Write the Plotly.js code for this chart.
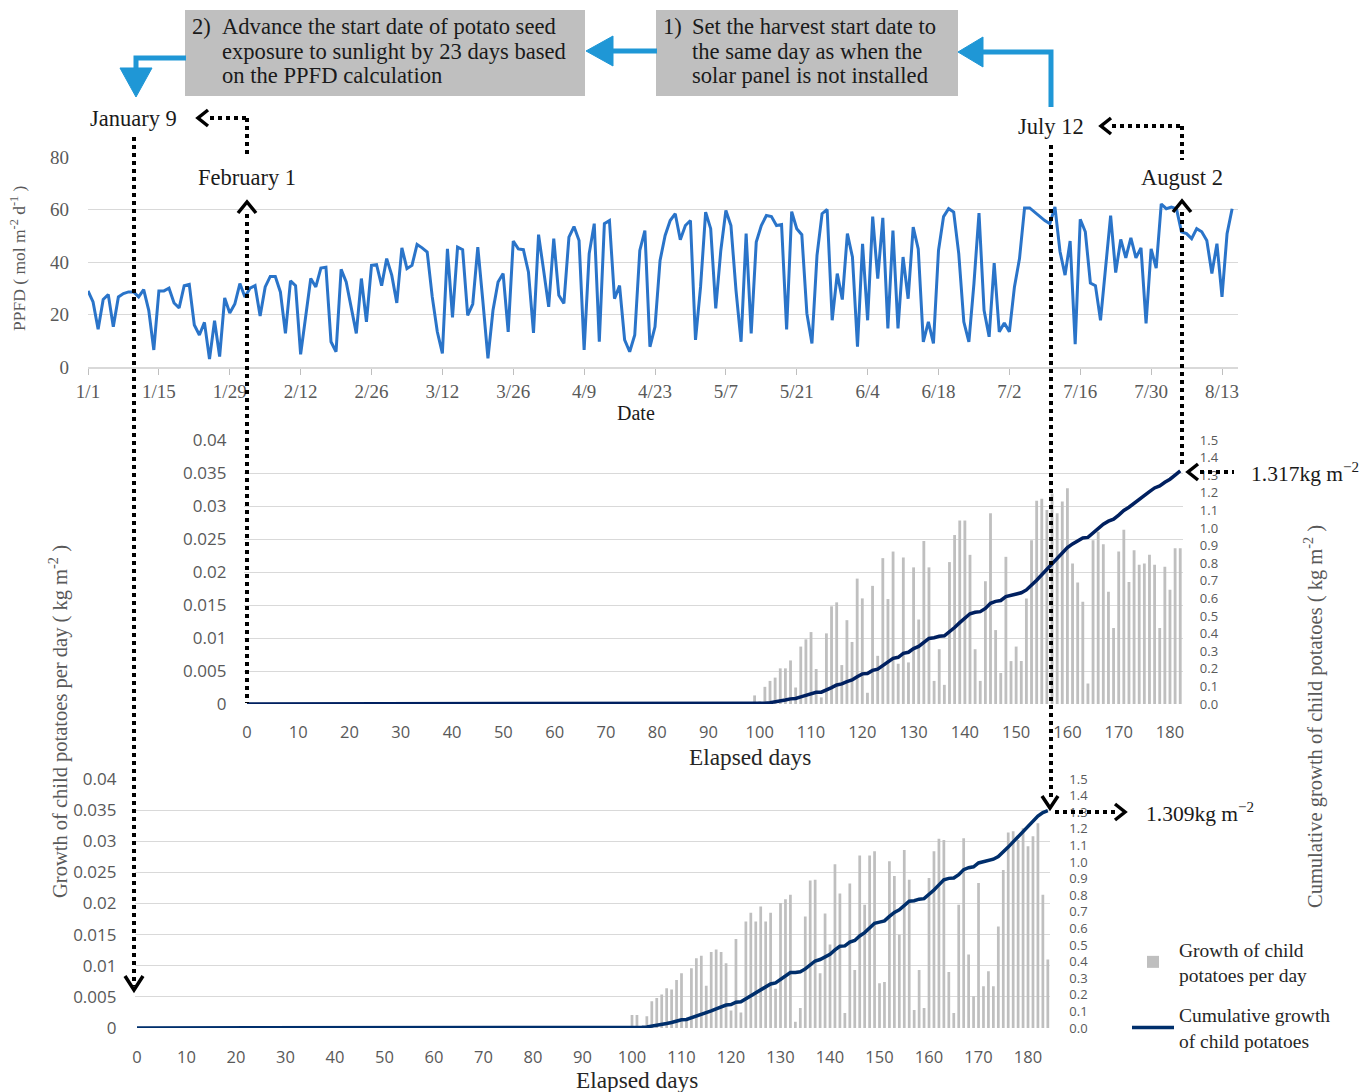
<!DOCTYPE html>
<html>
<head>
<meta charset="utf-8">
<script src="https://cdn.plot.ly/plotly-3.0.1.min.js"></script>
<style>
html,body{margin:0;padding:0;background:#ffffff;}
#chart{width:1370px;height:1092px;}
</style>
</head>
<body>
<div id="chart"></div>
<script>
// ---------------- DATA ----------------
// Top panel: daily PPFD (mol m-2 d-1), day 0 = 1/1 ... day 226 = 8/15
const dateTickDays = [0, 14, 28, 42, 56, 70, 84, 98, 112, 126, 140, 154, 168, 182, 196, 210, 224];
const dateTickLabels = ['1/1', '1/15', '1/29', '2/12', '2/26', '3/12', '3/26', '4/9', '4/23', '5/7', '5/21', '6/4', '6/18', '7/2', '7/16', '7/30', '8/13'];
const ppfd = [
  29, 24.8, 14.4, 25.7, 27.6, 15.3, 26.7, 28, 28.6, 28.6,
  26.7, 29.5, 21.6, 6.5, 29, 29, 30, 24.4, 22.5, 31,
  31.5, 16, 12.2, 17, 3, 17.6, 4, 26.3, 20.6, 24,
  31.8, 26.7, 30, 31, 19.4, 30.5, 34.5, 34.5, 28.6, 12.8,
  32.8, 31, 4.8, 20, 33.7, 30.5, 37.7, 38, 9.6, 5.8,
  37.2, 32.4, 22.3, 12.8, 33.7, 17.2, 38.7, 39, 31, 41.3,
  35, 24.4, 45.4, 37.5, 38.7, 46.7, 45.4, 43.8, 26.7, 13.4,
  5.2, 45, 18.9, 45.7, 44.7, 19.7, 24, 45.7,
  25, 3.3, 21.6, 32.4, 35.6, 13.4, 48, 45, 44.7, 36.2,
  13, 50.4, 36.8, 22.9, 48.9, 27.3, 24.2, 49.5, 53.5, 48.2,
  6.5, 43.2, 54.6, 9.6, 54.6, 55.8, 26, 31, 10.3, 5.8,
  12.2, 44.4, 52, 7.7, 15.3, 40.6, 50.1, 55.8, 58.4, 48.5,
  53.9, 55.8, 10.3, 30.5, 59, 52.7, 22.3, 44.4, 59.6, 53.9,
  29.2, 9.6, 50.8, 12.8, 47.6, 53.9, 57.7, 57.3, 53.9, 54.3,
  14.3, 59.2, 52.7, 50.4, 20.4, 9, 42.5, 58.4, 60, 17.8,
  35.6, 25.7, 50.8, 41.9, 7.7,
  46.9, 17.8, 57.3, 33.7, 56.8, 14.7, 52, 14.7, 41.9, 26,
  53.3, 45, 9.6, 17.2, 9, 44.4, 57.3, 60.3, 59, 43.2,
  17.2, 9.6, 31.8, 58.6, 21.6, 11.5, 39.6, 13.4, 16.8, 13.4,
  30.5, 41.3, 60.6, 60.6, 59, 57.3, 55.8, 54.6,
  61, 44, 35, 48, 8.7, 56.3, 51.5, 32, 31, 17.8,
  38, 57.7, 36, 48.6, 41.6, 49.2, 41.6, 45.4, 16.6, 45,
  37.7, 62.1, 60.3, 60.9, 60.3, 51.5, 50.8, 48.9, 52.7, 51.5,
  48.2, 35.6, 47, 26.7, 50.8, 60.3
];

// Middle panel (start Feb 1): growth per day, zero until day 99, last day 182
const midLastDay = 182;
const midGrowthStartDay = 99;
const midGrowthValues = [
  0.0013, 0.0004, 0.0026, 0.0035, 0.004, 0.0054, 0.0054, 0.0066, 0.0025, 0.0087,
  0.0098, 0.0109, 0.0053, 0.001,
  0.0107, 0.0148, 0.0154, 0.0059, 0.0127, 0.0094, 0.019, 0.016, 0.0017, 0.0179,
  0.0073, 0.0221, 0.0159, 0.0231, 0.0061, 0.0222, 0.0063, 0.0207, 0.0128, 0.0247,
  0.0207, 0.0035, 0.0083, 0.0029, 0.0215, 0.0256, 0.0278, 0.0278, 0.0226, 0.0083,
  0.0035, 0.0186, 0.0289, 0.0112, 0.0047,
  0.0223, 0.0065, 0.0087, 0.0065, 0.016, 0.0248, 0.0308, 0.0311, 0.0294, 0.0319,
  0.0289, 0.0307, 0.0327, 0.0213, 0.0184, 0.0155, 0.0031, 0.0248, 0.0261, 0.0242, 0.017,
  0.0115, 0.0231, 0.0264, 0.0185, 0.0233, 0.0211, 0.0213, 0.0226, 0.0211, 0.0115,
  0.0208, 0.0173, 0.0236, 0.0236
];

// Bottom panel (start Jan 9): growth per day, zero until day 100, last day 184
const botLastDay = 184;
const botGrowthStartDay = 100;
const botGrowthValues = [
  0.0021, 0.0021, 0.0003, 0.0019, 0.0043, 0.0048, 0.0054, 0.0064, 0.0062, 0.0077,
  0.0088, 0.0015, 0.0096,
  0.0112, 0.0116, 0.0068, 0.0122, 0.0126, 0.0122, 0.0104, 0.0028, 0.0143, 0.0025,
  0.0171, 0.0185, 0.0171, 0.0195, 0.0171, 0.0185, 0.0063, 0.0201, 0.0207, 0.0214,
  0.001, 0.0032, 0.0179, 0.0237, 0.0238, 0.0088, 0.0184, 0.0134, 0.0263, 0.0216,
  0.0024, 0.0232, 0.0093, 0.0277,
  0.0198, 0.0277, 0.0284, 0.0072, 0.0074, 0.0268, 0.0244, 0.015, 0.0286, 0.0238,
  0.0029, 0.0093, 0.0032, 0.0241, 0.0284, 0.0304, 0.0302, 0.009, 0.0024, 0.0198,
  0.0305, 0.0118, 0.0051, 0.0233, 0.0067, 0.0091, 0.0067, 0.0163, 0.0254, 0.0314,
  0.0316, 0.0302, 0.0321, 0.0292, 0.0308, 0.0329, 0.0214,
  0.011
];

const elapsedTickVals = [0, 10, 20, 30, 40, 50, 60, 70, 80, 90, 100, 110, 120, 130, 140, 150, 160, 170, 180];
const growthTickVals = [0, 0.005, 0.01, 0.015, 0.02, 0.025, 0.03, 0.035, 0.04];
const growthTickText = ['0', '0.005', '0.01', '0.015', '0.02', '0.025', '0.03', '0.035', '0.04'];

// ---------------- BUILD SERIES ----------------
function dayIndex(n) { const a = []; for (let i = 0; i < n; i++) a.push(i); return a; }
function padGrowth(startDay, values, lastDay) {
  const out = [];
  for (let d = 0; d <= lastDay; d++) {
    const k = d - startDay;
    out.push(k >= 0 && k < values.length ? values[k] : 0);
  }
  return out;
}
// cumulative growth = running total of the daily growth
function runningTotal(arr) { let s = 0; return arr.map(v => (s += v, +s.toFixed(4))); }

const ppfdDays = dayIndex(ppfd.length);
const midDays = dayIndex(midLastDay + 1);
const botDays = dayIndex(botLastDay + 1);
const midGrowth = padGrowth(midGrowthStartDay, midGrowthValues, midLastDay);
const botGrowth = padGrowth(botGrowthStartDay, botGrowthValues, botLastDay);
const midCum = runningTotal(midGrowth);
const botCum = runningTotal(botGrowth);

// ---------------- LAYOUT HELPERS ----------------
const W = 1370, H = 1092;
const fx = px => px / W;
const fy = py => 1 - py / H;
const SERIF = 'Liberation Serif, Times New Roman, serif';
const SANS = 'Open Sans, Noto Sans, sans-serif';
const GRID = '#d9d9d9';
const TICKC = '#595959';
const BLUE = '#1f97d6';

const traces = [
  { type: 'scatter', mode: 'lines', x: ppfdDays, y: ppfd, xaxis: 'x', yaxis: 'y',
    line: { color: '#2a74c9', width: 3 }, showlegend: false, name: 'PPFD' },
  { type: 'bar', x: midDays, y: midGrowth, xaxis: 'x2', yaxis: 'y2',
    marker: { color: '#bfbfbf' }, showlegend: false, name: 'Growth of child potatoes per day' },
  { type: 'scatter', mode: 'lines', x: midDays, y: midCum, xaxis: 'x2', yaxis: 'y4',
    line: { color: '#002060', width: 3.5 }, showlegend: false, name: 'Cumulative growth of child potatoes' },
  { type: 'bar', x: botDays, y: botGrowth, xaxis: 'x3', yaxis: 'y3',
    marker: { color: '#bfbfbf' }, name: 'Growth of child<br>potatoes per day', legendgroup: 'g1' },
  { type: 'scatter', mode: 'lines', x: botDays, y: botCum, xaxis: 'x3', yaxis: 'y5',
    line: { color: '#002f6c', width: 3.5 }, name: 'Cumulative growth<br>of child potatoes', legendgroup: 'g2' }
];

const sansTick = { family: SANS, size: 16.5, color: TICKC };
const leftTick = { family: SANS, size: 17, color: TICKC };
const rightTick = { family: SANS, size: 13, color: TICKC };

const layout = {
  width: W, height: H, autosize: false,
  margin: { l: 0, r: 0, t: 0, b: 0, pad: 0 },
  paper_bgcolor: '#ffffff', plot_bgcolor: 'rgba(0,0,0,0)',
  bargap: 0.45,
  hovermode: false,
  // ---- top: PPFD ----
  xaxis: {
    domain: [fx(88), fx(1238)], anchor: 'y', range: [0, (1238 - 88) / 5.0625],
    tickmode: 'array', tickvals: dateTickDays, ticktext: dateTickLabels,
    ticks: 'outside', ticklen: 6, tickcolor: '#bfbfbf', tickwidth: 1,
    showline: true, linecolor: GRID, linewidth: 1.5, showgrid: false, zeroline: false,
    tickfont: { family: SERIF, size: 19, color: TICKC }, ticklabelstandoff: 1
  },
  yaxis: {
    domain: [fy(367), fy(157)], anchor: 'x', range: [0, 80], dtick: 20,
    showgrid: true, gridcolor: GRID, gridwidth: 1, zeroline: false, showline: false,
    tickfont: { family: SERIF, size: 19, color: TICKC }, ticklabelstandoff: 18
  },
  // ---- middle ----
  xaxis2: {
    domain: [fx(244.4), fx(1182.8)], anchor: 'y2', range: [-0.5, midLastDay + 0.5],
    tickmode: 'array', tickvals: elapsedTickVals, ticks: '', showgrid: false, zeroline: false, showline: false,
    tickfont: sansTick, ticklabelstandoff: 16
  },
  yaxis2: {
    domain: [fy(704), fy(440)], anchor: 'x2', range: [0, 0.04],
    tickmode: 'array', tickvals: growthTickVals, ticktext: growthTickText,
    showgrid: true, gridcolor: GRID, zeroline: false, showline: false,
    tickfont: leftTick, ticklabelstandoff: 17
  },
  yaxis4: {
    overlaying: 'y2', side: 'right', anchor: 'x2', range: [0, 1.5], dtick: 0.1, tickformat: '.1f',
    showgrid: false, zeroline: false, showline: false, tickfont: rightTick, ticklabelstandoff: 16
  },
  // ---- bottom ----
  xaxis3: {
    domain: [fx(134.5), fx(1050.3)], anchor: 'y3', range: [-0.5, botLastDay + 0.5],
    tickmode: 'array', tickvals: elapsedTickVals, ticks: '', showgrid: false, zeroline: false, showline: false,
    tickfont: sansTick, ticklabelstandoff: 17
  },
  yaxis3: {
    domain: [fy(1028), fy(779)], anchor: 'x3', range: [0, 0.04],
    tickmode: 'array', tickvals: growthTickVals, ticktext: growthTickText,
    showgrid: true, gridcolor: GRID, zeroline: false, showline: false,
    tickfont: leftTick, ticklabelstandoff: 17
  },
  yaxis5: {
    overlaying: 'y3', side: 'right', anchor: 'x3', range: [0, 1.5], dtick: 0.1, tickformat: '.1f',
    showgrid: false, zeroline: false, showline: false, tickfont: rightTick, ticklabelstandoff: 18
  },
  showlegend: true,
  legend: {
    x: fx(1127), y: fy(930), xanchor: 'left', yanchor: 'top',
    font: { family: SERIF, size: 19.5, color: '#262626' },
    bgcolor: 'rgba(0,0,0,0)', itemwidth: 42, tracegroupgap: 12, traceorder: 'grouped', valign: 'middle'
  },
  shapes: [],
  annotations: []
};

// ---------------- DECORATIONS ----------------
const S = layout.shapes, A = layout.annotations;
function pathOf(pts, close) {
  return 'M' + pts.map(p => fx(p[0]).toFixed(5) + ',' + fy(p[1]).toFixed(5)).join(' L') + (close ? ' Z' : '');
}
function dotted(x0, y0, x1, y1) {
  S.push({ type: 'line', xref: 'paper', yref: 'paper', x0: fx(x0), y0: fy(y0), x1: fx(x1), y1: fy(y1),
    line: { color: '#000000', width: 4, dash: 'dot' } });
}
function chevron(pts) {
  S.push({ type: 'path', xref: 'paper', yref: 'paper', path: pathOf(pts, false),
    line: { color: '#000000', width: 3.5 } });
}
function blueLine(pts) {
  S.push({ type: 'path', xref: 'paper', yref: 'paper', path: pathOf(pts, false),
    line: { color: BLUE, width: 5 } });
}
function blueHead(pts) {
  S.push({ type: 'path', xref: 'paper', yref: 'paper', path: pathOf(pts, true),
    fillcolor: BLUE, line: { color: BLUE, width: 1 } });
}
function text(t, x, y, size, anchor, extra) {
  A.push(Object.assign({ text: t, x: fx(x), y: fy(y), xref: 'paper', yref: 'paper', showarrow: false,
    xanchor: anchor || 'center', yanchor: 'middle', font: { family: SERIF, size: size, color: '#1a1a1a' } }, extra || {}));
}

// grey step boxes
S.push({ type: 'rect', xref: 'paper', yref: 'paper', x0: fx(185), x1: fx(585), y0: fy(96), y1: fy(10),
  fillcolor: '#bfbfbf', line: { width: 0 }, layer: 'below' });
S.push({ type: 'rect', xref: 'paper', yref: 'paper', x0: fx(656), x1: fx(958), y0: fy(96), y1: fy(10),
  fillcolor: '#bfbfbf', line: { width: 0 }, layer: 'below' });
const box2Lines = ['Advance the start date of potato seed', 'exposure to sunlight by 23 days based', 'on the PPFD calculation'];
const box1Lines = ['Set the harvest start date to', 'the same day as when the', 'solar panel is not installed'];
const BOXFONT = 22.6;
text('2)', 190, 26, BOXFONT, 'left');
box2Lines.forEach((t, i) => text(t, 220, 26 + 25 * i, BOXFONT, 'left'));
text('1)', 661, 26, BOXFONT, 'left');
box1Lines.forEach((t, i) => text(t, 690, 26 + 25 * i, BOXFONT, 'left'));

// blue flow arrows
blueLine([[1051, 107], [1051, 52], [980, 52]]);
blueHead([[958, 52], [983, 37], [983, 67]]);
blueLine([[657, 51], [610, 51]]);
blueHead([[586, 51], [613, 36], [613, 66]]);
blueLine([[186, 58], [136, 58], [136, 70]]);
blueHead([[136, 97], [120, 68], [152, 68]]);

// date labels
text('January 9', 133, 118, 22.5);
text('February 1', 247, 178, 22.5);
text('July 12', 1051, 126, 22.5);
text('August 2', 1182, 178, 22.5);
text('1.317kg m<sup>−2</sup>', 1249, 472, 21.5, 'left');
text('1.309kg m<sup>−2</sup>', 1144, 812, 21.5, 'left');

// axis titles
text('Date', 636, 413, 20);
text('Elapsed days', 750, 757, 23.3, 'center', { font: { family: SERIF, size: 23.3, color: '#262626' } });
text('Elapsed days', 637, 1080, 23.3, 'center', { font: { family: SERIF, size: 23.3, color: '#262626' } });
text('PPFD ( mol m<sup>-2</sup> d<sup>-1</sup> )', 18, 258, 17.5, 'center', { textangle: -90, font: { family: SERIF, size: 17.5, color: TICKC } });
text('Growth of child potatoes per day ( kg m<sup>-2</sup> )', 58, 722, 20.5, 'center', { textangle: -90, font: { family: SERIF, size: 20.5, color: TICKC } });
text('Cumulative growth of child potatoes ( kg m<sup>-2</sup> )', 1313, 717, 20.5, 'center', { textangle: -90, font: { family: SERIF, size: 20.5, color: TICKC } });

// dotted guide arrows
dotted(134, 137, 134, 986);
chevron([[125, 976], [134, 990], [143, 976]]);
dotted(210, 118, 247, 118);
dotted(247, 118, 247, 158);
chevron([[208, 110], [198, 118], [208, 126]]);
dotted(247, 214, 247, 703);
chevron([[238, 213], [247, 202], [256, 213]]);
dotted(1051, 145, 1051, 800);
chevron([[1042, 796], [1050, 808], [1058, 796]]);
dotted(1112, 126, 1182, 126);
dotted(1182, 126, 1182, 160);
chevron([[1111, 118], [1101, 126], [1111, 134]]);
dotted(1182, 212, 1182, 467);
chevron([[1173, 212], [1182, 201], [1191, 212]]);
dotted(1200, 472, 1234, 472);
chevron([[1198, 464], [1188, 472], [1198, 480]]);
dotted(1055, 812, 1116, 812);
chevron([[1115, 804], [1125, 812], [1115, 820]]);

Plotly.newPlot('chart', traces, layout, { staticPlot: true, displayModeBar: false });
</script>
</body>
</html>
